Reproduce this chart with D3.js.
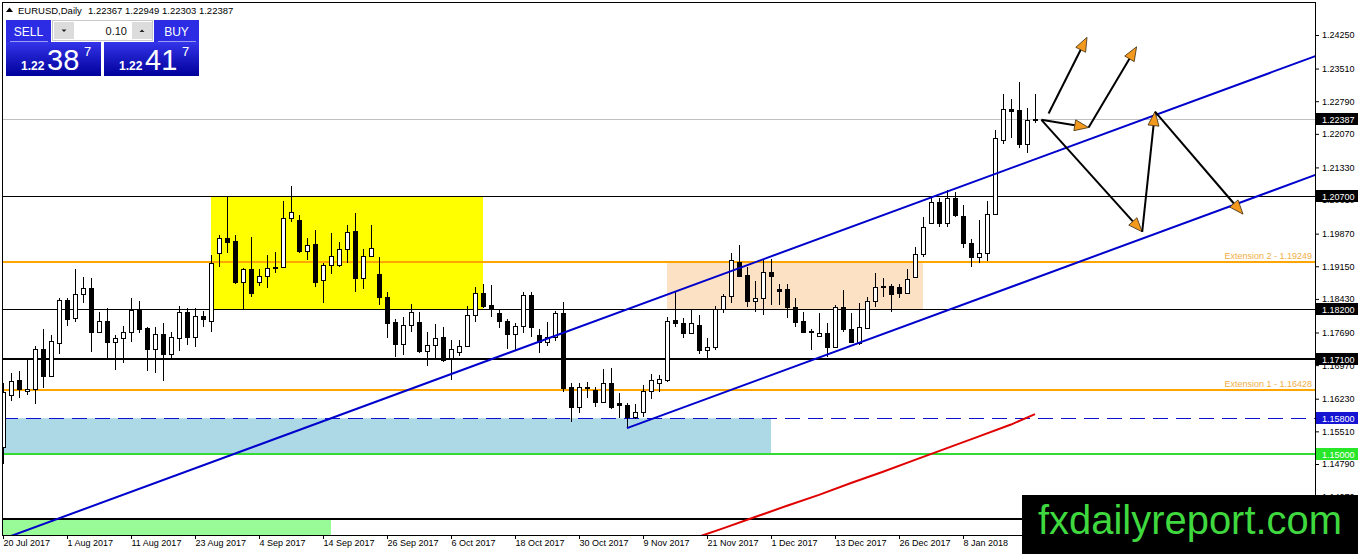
<!DOCTYPE html>
<html>
<head>
<meta charset="utf-8">
<style>
body {margin: 0; background: #fff;}
svg text {font-family: "Liberation Sans", Arial, sans-serif;}
</style>
<script src="https://d3js.org/d3.v7.min.js"></script>
</head>
<body>
<svg id="chart" width="1358" height="554"></svg>
<script>
// ---- data ----
var symbolTitle = "EURUSD,Daily";
var lastQuote = [1.22367, 1.22949, 1.22303, 1.22387];

var dateLabels = ["20 Jul 2017", "1 Aug 2017", "11 Aug 2017", "23 Aug 2017", "4 Sep 2017",
  "14 Sep 2017", "26 Sep 2017", "6 Oct 2017", "18 Oct 2017", "30 Oct 2017", "9 Nov 2017",
  "21 Nov 2017", "1 Dec 2017", "13 Dec 2017", "26 Dec 2017", "8 Jan 2018"];
var labelBars = [0, 8, 16, 24, 32, 40, 48, 56, 64, 72, 80, 88, 96, 104, 112, 120];

var priceTicks = [1.24250, 1.23510, 1.22790, 1.22070, 1.21330, 1.20610, 1.19870, 1.19150,
  1.18430, 1.17690, 1.16970, 1.16230, 1.15510, 1.14790, 1.14070];

var open = [1.1517,1.1631,1.1664,1.1640,1.1644,1.1732,1.1674,1.1745,1.1841,1.1800,
  1.1853,1.1866,1.1771,1.1794,1.1749,1.1756,1.1769,1.1819,1.1779,1.1732,
  1.1766,1.1721,1.1756,1.1814,1.1759,1.1805,1.1795,1.1944,1.1977,1.1971,
  1.1881,1.1908,1.1881,1.1894,1.1913,1.1914,1.2021,1.2017,1.1949,1.1964,
  1.1885,1.1918,1.1918,1.1952,1.1993,1.1890,1.1938,1.1897,1.1847,1.1793,
  1.1743,1.1786,1.1792,1.1729,1.1741,1.1760,1.1712,1.1727,1.1739,1.1808,
  1.1855,1.1830,1.1813,1.1794,1.1765,1.1784,1.1852,1.1763,1.1749,1.1760,
  1.1811,1.1648,1.1604,1.1646,1.1642,1.1616,1.1657,1.1613,1.1609,1.1583,
  1.1593,1.1641,1.1657,1.1664,1.1797,1.1789,1.1767,1.1786,1.1730,1.1736,
  1.1821,1.1849,1.1925,1.1896,1.1839,1.1844,1.1902,1.1864,1.1864,1.1825,
  1.1794,1.1772,1.1762,1.1767,1.1738,1.1826,1.1776,1.1745,1.1778,1.1838,
  1.1872,1.1872,1.1870,1.1855,1.1891,1.1942,1.2011,1.2056,1.2011,1.2065,
  1.2026,1.1966,1.1935,1.1945,1.2030,1.2193,1.2261,1.2260,1.2185,1.22367];
var high = [1.1658,1.1680,1.1683,1.1708,1.1740,1.1776,1.1763,1.1844,1.1844,1.1908,
  1.1891,1.1889,1.1814,1.1822,1.1763,1.1783,1.1844,1.1838,1.1782,1.1780,
  1.1789,1.1771,1.1827,1.1824,1.1822,1.1817,1.1940,1.1984,1.2068,1.1984,
  1.1911,1.1979,1.1908,1.1940,1.1947,1.2060,1.2092,1.2028,1.1977,1.1995,
  1.1922,1.1988,1.1969,1.2005,1.2032,1.1952,1.2005,1.1935,1.1859,1.1798,
  1.1804,1.1832,1.1814,1.1771,1.1788,1.1782,1.1752,1.1752,1.1827,1.1869,
  1.1877,1.1874,1.1820,1.1798,1.1789,1.1859,1.1859,1.1776,1.1793,1.1817,
  1.1836,1.1657,1.1657,1.1660,1.1648,1.1688,1.1690,1.1635,1.1613,1.1611,
  1.1653,1.1677,1.1675,1.1804,1.1859,1.1800,1.1819,1.1808,1.1756,1.1827,
  1.1854,1.1944,1.1962,1.1914,1.1883,1.1930,1.1930,1.1877,1.1876,1.1844,
  1.1814,1.1776,1.1811,1.1791,1.1830,1.1863,1.1811,1.1833,1.1847,1.1900,
  1.1889,1.1876,1.1876,1.1908,1.1958,1.2023,1.2070,1.2065,1.2083,1.2079,
  1.2050,1.1975,1.2017,1.2059,1.2216,1.2295,1.2283,1.2322,1.2263,1.22949];
var low = [1.1479,1.1618,1.1624,1.1631,1.1611,1.1647,1.1670,1.1721,1.1784,1.1793,
  1.1833,1.1727,1.1767,1.1712,1.1686,1.1702,1.1747,1.1767,1.1685,1.1680,
  1.1661,1.1708,1.1729,1.1741,1.1738,1.1782,1.1771,1.1914,1.1945,1.1876,
  1.1821,1.1848,1.1872,1.1866,1.1901,1.1913,1.2013,1.1945,1.1929,1.1870,
  1.1835,1.1898,1.1913,1.1922,1.1859,1.1864,1.1935,1.1830,1.1756,1.1716,
  1.1719,1.1771,1.1723,1.1695,1.1712,1.1705,1.1664,1.1717,1.1738,1.1793,
  1.1822,1.1804,1.1778,1.1732,1.1730,1.1767,1.1760,1.1723,1.1739,1.1751,
  1.1638,1.1572,1.1592,1.1624,1.1605,1.1613,1.1600,1.1580,1.1558,1.1578,
  1.1583,1.1622,1.1638,1.1660,1.1782,1.1756,1.1765,1.1722,1.1712,1.1730,
  1.1811,1.1835,1.1892,1.1826,1.1815,1.1808,1.1830,1.1830,1.1800,1.1780,
  1.1767,1.1730,1.1760,1.1716,1.1734,1.1771,1.1745,1.1741,1.1776,1.1826,
  1.1848,1.1815,1.1844,1.1854,1.1891,1.1935,1.2010,1.2002,1.2002,1.2024,
  1.1955,1.1914,1.1922,1.1927,1.2028,1.2185,1.2197,1.2175,1.2164,1.22303];
var close = [1.1638,1.1661,1.1644,1.1644,1.1732,1.1674,1.1750,1.1841,1.1798,1.1853,
  1.1866,1.1769,1.1794,1.1749,1.1756,1.1769,1.1819,1.1777,1.1732,1.1766,
  1.1721,1.1759,1.1814,1.1760,1.1805,1.1798,1.1922,1.1977,1.1969,1.1881,
  1.1908,1.1857,1.1894,1.1911,1.1914,1.2021,1.2034,1.1949,1.1963,1.1881,
  1.1918,1.1938,1.1953,1.1991,1.1890,1.1938,1.1955,1.1847,1.1791,1.1743,
  1.1786,1.1814,1.1729,1.1741,1.1756,1.1708,1.1733,1.1739,1.1808,1.1855,
  1.1827,1.1820,1.1794,1.1765,1.1784,1.1852,1.1780,1.1749,1.1759,1.1813,
  1.1646,1.1605,1.1648,1.1649,1.1616,1.1657,1.1604,1.1608,1.1583,1.1593,
  1.1641,1.1664,1.1666,1.1795,1.1789,1.1767,1.1789,1.1730,1.1736,1.1821,
  1.1849,1.1929,1.1894,1.1839,1.1844,1.1902,1.1894,1.1861,1.1825,1.1793,
  1.1769,1.1769,1.1767,1.1738,1.1826,1.1776,1.1747,1.1782,1.1838,1.1869,
  1.1869,1.1854,1.1855,1.1887,1.1942,1.2001,1.2056,1.2011,1.2065,1.2027,
  1.1966,1.1935,1.1945,1.2030,1.2197,1.2261,1.2258,1.2185,1.2238,1.22387];

// red moving average (only the visible part)
var maBars = [86, 90, 94, 98, 102, 106, 110, 114, 118, 122, 126, 129];
var maValues = [1.1313, 1.1337, 1.1362, 1.1387, 1.1411, 1.1437, 1.1462, 1.1488, 1.1514, 1.1540, 1.1566, 1.1589];

// horizontal levels
var blackLevels = [1.20700, 1.18200, 1.17100, 1.13580];
var extensionLevels = [1.19249, 1.16428];
var extensionNames = ["Extension 2 - 1.19249", "Extension 1 - 1.16428"];
var dashedLevel = 1.15800;
var greenLevel = 1.15000;
var bidLevel = 1.22387;

// zones: yellow, peach, light blue, light green
var zoneFrom = [26, 83, -2, -2];
var zoneTo = [60, 115, 96, 41];
var zoneTop = [1.2070, 1.19249, 1.1580, 1.1358];
var zoneBottom = [1.1820, 1.1820, 1.1500, 1.1280];

// channel (two parallel trend lines) [bar, price]
var upperChannel = [[78, 1.1820], [129, 1.2151]];
var lowerChannel = [[78, 1.1558], [129, 1.1889]];

// scenario arrows [bar, price] -> [bar, price]
var arrowFrom = [[130.7, 1.2252], [129.8, 1.2238], [135.7, 1.2221], [129.8, 1.2238], [142.4, 1.1991], [144.0, 1.2256]];
var arrowTo = [[135.5, 1.2420], [135.7, 1.2221], [141.7, 1.2399], [142.4, 1.1991], [144.0, 1.2256], [155.0, 1.2030]];

// ---- drawing ----
var svg = d3.select("#chart");
var x = d3.scaleLinear().domain([0, 164]).range([3, 1315]);
var y = d3.scaleLinear().domain([1.1479, 1.2425]).range([464, 35]);
function px(v) { return Math.round(v) + 0.5; }

var defs = svg.append("defs");
defs.append("clipPath").attr("id", "plotClip")
  .append("rect").attr("x", 3).attr("y", 3).attr("width", 1312).attr("height", 532);
var grad = defs.append("linearGradient").attr("id", "panelBlue")
  .attr("x1", 0).attr("y1", 0).attr("x2", 0).attr("y2", 1);
grad.append("stop").attr("offset", "0%").attr("stop-color", "#3434ea");
grad.append("stop").attr("offset", "100%").attr("stop-color", "#00009a");

var plot = svg.append("g").attr("clip-path", "url(#plotClip)");

var zoneColors = ["#ffff00", "#fde1c4", "#add8e6", "#98fb98"];
plot.selectAll("rect.zone").data(d3.range(zoneFrom.length)).enter().append("rect")
  .attr("class", "zone")
  .attr("x", function(i) { return x(zoneFrom[i]); })
  .attr("width", function(i) { return x(zoneTo[i]) - x(zoneFrom[i]); })
  .attr("y", function(i) { return y(zoneTop[i]); })
  .attr("height", function(i) { return y(zoneBottom[i]) - y(zoneTop[i]); })
  .attr("fill", function(i) { return zoneColors[i]; });

// bid line
plot.append("line").attr("x1", 3).attr("x2", 1315)
  .attr("y1", px(y(bidLevel))).attr("y2", px(y(bidLevel)))
  .attr("stroke", "#c0c0c0");

var blackWidths = [1, 1, 2, 2];
plot.selectAll("line.black").data(blackLevels).enter().append("line")
  .attr("x1", 3).attr("x2", 1315)
  .attr("y1", function(d, i) { return blackWidths[i] == 1 ? px(y(d)) : Math.round(y(d)); })
  .attr("y2", function(d, i) { return blackWidths[i] == 1 ? px(y(d)) : Math.round(y(d)); })
  .attr("stroke", "#000").attr("stroke-width", function(d, i) { return blackWidths[i]; });

plot.selectAll("line.ext").data(extensionLevels).enter().append("line")
  .attr("x1", 3).attr("x2", 1315)
  .attr("y1", function(d) { return Math.round(y(d)); })
  .attr("y2", function(d) { return Math.round(y(d)); })
  .attr("stroke", "#ffa500").attr("stroke-width", 2);

plot.selectAll("text.ext").data(extensionLevels).enter().append("text")
  .attr("x", 1312).attr("y", function(d) { return y(d) - 3; })
  .attr("text-anchor", "end").attr("font-size", 9).attr("fill", "#f2ae45")
  .text(function(d, i) { return extensionNames[i]; });

plot.append("line").attr("x1", 3).attr("x2", 1315)
  .attr("y1", px(y(dashedLevel))).attr("y2", px(y(dashedLevel)))
  .attr("stroke", "#1010cc").attr("stroke-dasharray", "15,8");

plot.append("line").attr("x1", 3).attr("x2", 1315)
  .attr("y1", Math.round(y(greenLevel))).attr("y2", Math.round(y(greenLevel)))
  .attr("stroke", "#32dc32").attr("stroke-width", 2);

// candles
var bars = d3.range(open.length);
plot.selectAll("line.wick").data(bars).enter().append("line")
  .attr("x1", function(i) { return x(i) + 0.5; })
  .attr("x2", function(i) { return x(i) + 0.5; })
  .attr("y1", function(i) { return Math.round(y(high[i])); })
  .attr("y2", function(i) { return Math.round(y(low[i])); })
  .attr("stroke", "#000");

plot.selectAll("rect.body").data(bars).enter().append("rect")
  .attr("x", function(i) { return x(i) - 1.5; })
  .attr("width", 4)
  .attr("y", function(i) { return px(y(Math.max(open[i], close[i]))); })
  .attr("height", function(i) {
    return Math.max(1, Math.round(y(Math.min(open[i], close[i]))) - Math.round(y(Math.max(open[i], close[i]))));
  })
  .attr("fill", function(i) { return close[i] >= open[i] ? "#fff" : "#000"; })
  .attr("stroke", "#000");

// channel lines
function extend(pts, fromBar, toBar) {
  var slope = (pts[1][1] - pts[0][1]) / (pts[1][0] - pts[0][0]);
  return [[fromBar, pts[0][1] + slope * (fromBar - pts[0][0])],
          [toBar, pts[0][1] + slope * (toBar - pts[0][0])]];
}
var line = d3.line().x(function(d) { return x(d[0]); }).y(function(d) { return y(d[1]); });
plot.append("path").attr("d", line(extend(upperChannel, -5, 170)))
  .attr("fill", "none").attr("stroke", "#0000cc").attr("stroke-width", 2);
plot.append("path").attr("d", line(extend(lowerChannel, 78, 170)))
  .attr("fill", "none").attr("stroke", "#0000cc").attr("stroke-width", 2);

// moving average
plot.append("path").attr("d", line(maBars.map(function(b, i) { return [b, maValues[i]]; })))
  .attr("fill", "none").attr("stroke", "#e00000").attr("stroke-width", 2);

// arrows
arrowFrom.forEach(function(a, i) {
  var b = arrowTo[i];
  var x1 = x(a[0]), y1 = y(a[1]), x2 = x(b[0]), y2 = y(b[1]);
  var ang = Math.atan2(y2 - y1, x2 - x1);
  var len = 14, half = 5.5;
  var bx = x2 - len * Math.cos(ang), by = y2 - len * Math.sin(ang);
  plot.append("line").attr("x1", x1).attr("y1", y1).attr("x2", bx).attr("y2", by)
    .attr("stroke", "#000").attr("stroke-width", 2);
  var pts = [[x2, y2],
    [bx + half * Math.sin(ang), by - half * Math.cos(ang)],
    [bx - half * Math.sin(ang), by + half * Math.cos(ang)]];
  plot.append("polygon").attr("points", pts.map(function(p) { return p.join(","); }).join(" "))
    .attr("fill", "#f39a1e").attr("stroke", "#3a2a10").attr("stroke-width", 0.8);
});

// frame
svg.append("rect").attr("x", 2.5).attr("y", 2.5).attr("width", 1313).attr("height", 533)
  .attr("fill", "none").attr("stroke", "#000");

// price axis
var yAxis = d3.axisRight(y).tickValues(priceTicks).tickSize(4).tickFormat(d3.format(".5f"));
svg.append("g").attr("transform", "translate(1315,0)").call(yAxis)
  .call(function(g) { g.select(".domain").remove(); })
  .call(function(g) {
    g.selectAll("text").attr("x", 7).attr("font-size", 9)
      .attr("font-family", "Liberation Sans, Arial, sans-serif");
  });

// date axis
var xAxis = d3.axisBottom(x).tickValues(labelBars).tickSize(4)
  .tickFormat(function(d, i) { return dateLabels[i]; });
svg.append("g").attr("transform", "translate(0,535)").call(xAxis)
  .call(function(g) { g.select(".domain").remove(); })
  .call(function(g) {
    g.selectAll("text").attr("text-anchor", "start").attr("x", 0).attr("y", 5)
      .attr("font-size", 9).attr("font-family", "Liberation Sans, Arial, sans-serif");
  });

// price tags on the axis
var tagLevels = [bidLevel, blackLevels[0], blackLevels[1], blackLevels[2], dashedLevel, greenLevel];
var tagColors = ["#000", "#000", "#000", "#000", "#1414d2", "#28e628"];
var tags = svg.selectAll("g.tag").data(tagLevels).enter().append("g")
  .attr("transform", function(d) { return "translate(1316," + Math.round(y(d)) + ")"; });
tags.append("rect").attr("x", 0).attr("y", -6).attr("width", 42).attr("height", 12)
  .attr("fill", function(d, i) { return tagColors[i]; });
tags.append("text").attr("x", 6).attr("y", 3.5).attr("font-size", 9).attr("fill", "#fff")
  .text(function(d) { return d3.format(".5f")(d); });

// header line
svg.append("path").attr("d", "M6,12 L9.5,7.5 L13,12 Z").attr("fill", "#000");
svg.append("text").attr("x", 18).attr("y", 14).attr("font-size", 9.5)
  .text(symbolTitle);
svg.append("text").attr("x", 88).attr("y", 14).attr("font-size", 9.5)
  .text(lastQuote.map(d3.format(".5f")).join(" "));

// one click trading panel
var panel = svg.append("g");
panel.append("rect").attr("x", 6).attr("y", 20).attr("width", 45).attr("height", 22).attr("fill", "#2c2ce4");
panel.append("rect").attr("x", 154).attr("y", 20).attr("width", 45).attr("height", 22).attr("fill", "#2c2ce4");
panel.append("line").attr("x1", 10).attr("x2", 48).attr("y1", 41.5).attr("y2", 41.5).attr("stroke", "#9a9af5");
panel.append("line").attr("x1", 158).attr("x2", 196).attr("y1", 41.5).attr("y2", 41.5).attr("stroke", "#9a9af5");
panel.append("text").attr("x", 28.5).attr("y", 36).attr("text-anchor", "middle")
  .attr("font-family", "Open Sans").attr("font-size", 12).attr("fill", "#fff").text("SELL");
panel.append("text").attr("x", 176.5).attr("y", 36).attr("text-anchor", "middle")
  .attr("font-family", "Open Sans").attr("font-size", 12).attr("fill", "#fff").text("BUY");

panel.append("rect").attr("x", 52.5).attr("y", 20.5).attr("width", 100).attr("height", 20)
  .attr("fill", "#fff").attr("stroke", "#c8c8c8");
panel.append("rect").attr("x", 54).attr("y", 22).attr("width", 20).attr("height", 17).attr("fill", "#dcdcdc");
panel.append("rect").attr("x", 132).attr("y", 22).attr("width", 20).attr("height", 17).attr("fill", "#dcdcdc");
panel.append("path").attr("d", "M61.5,29.5 L66.5,29.5 L64,32 Z").attr("fill", "#222");
panel.append("path").attr("d", "M139.5,32 L144.5,32 L142,29.5 Z").attr("fill", "#222");
panel.append("text").attr("x", 127).attr("y", 35).attr("text-anchor", "end")
  .attr("font-family", "Open Sans").attr("font-size", 11).attr("fill", "#111").text("0.10");

var quotes = [["1.22", "38", "7"], ["1.22", "41", "7"]];
var quoteX = [6, 104];
quotes.forEach(function(q, i) {
  var x0 = quoteX[i];
  panel.append("rect").attr("x", x0).attr("y", 42).attr("width", 95).attr("height", 34)
    .attr("fill", "url(#panelBlue)");
  panel.append("text").attr("x", x0 + 15).attr("y", 70).attr("font-family", "Open Sans")
    .attr("font-size", 12).attr("font-weight", 600).attr("fill", "#fff").text(q[0]);
  panel.append("text").attr("x", x0 + 41).attr("y", 70).attr("font-family", "Open Sans")
    .attr("font-size", 29).attr("fill", "#fff").text(q[1]);
  panel.append("text").attr("x", x0 + 78).attr("y", 56).attr("font-family", "Open Sans")
    .attr("font-size", 13).attr("fill", "#fff").text(q[2]);
});

// watermark
svg.append("rect").attr("x", 1022).attr("y", 495).attr("width", 336).attr("height", 59).attr("fill", "#000");
svg.append("text").attr("x", 1038).attr("y", 534).attr("font-size", 41)
  .attr("textLength", 304).attr("lengthAdjust", "spacingAndGlyphs")
  .attr("fill", "#3fd83f").text("fxdailyreport.com");
</script>
</body>
</html>
